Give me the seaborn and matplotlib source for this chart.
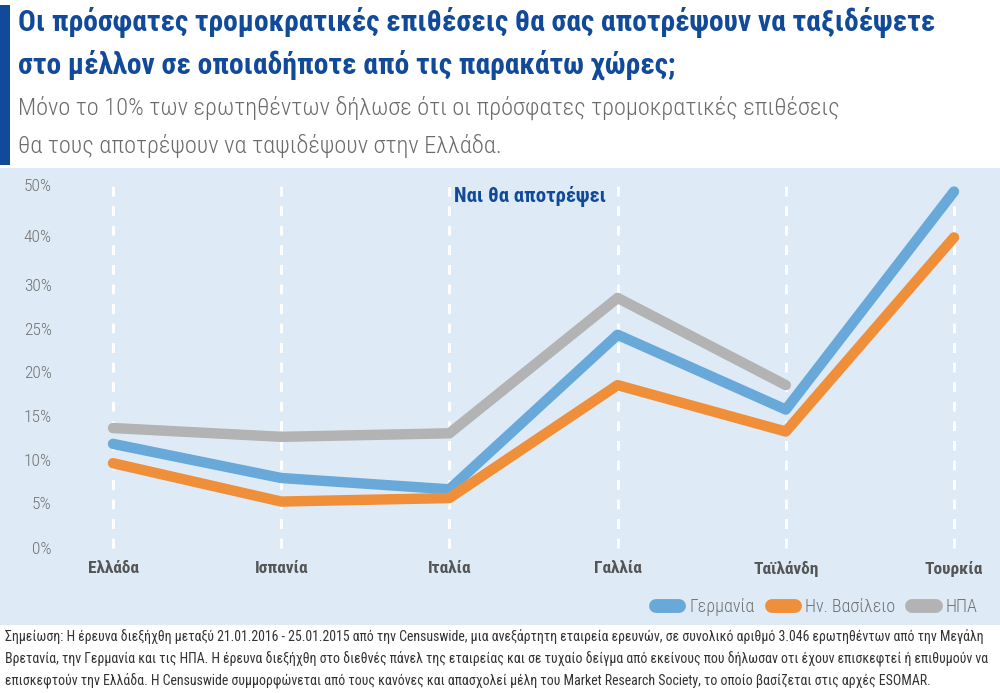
import numpy as np
import pandas as pd
import matplotlib
matplotlib.use("Agg")
import matplotlib.pyplot as plt
import seaborn as sns
from matplotlib import font_manager as fm
from matplotlib.ft2font import FT2Font
from matplotlib.lines import Line2D
from matplotlib.patches import Rectangle
from matplotlib.ticker import NullLocator

# ---------------- data ----------------
countries = ["Ελλάδα", "Ισπανία", "Ιταλία", "Γαλλία", "Ταϊλάνδη", "Τουρκία"]
germany = [11.8, 7.9, 6.6, 24.3, 15.7, 48.8]
uk = [9.6, 5.2, 5.6, 18.5, 13.2, 39.8]
usa = [13.6, 12.6, 13.0, 28.5, 18.5, None]
series_names = ["Γερμανία", "Ην. Βασίλειο", "ΗΠΑ"]
ytick_values = [0, 5, 10, 15, 20, 25, 30, 40, 50]
ytick_labels = ["0%", "5%", "10%", "15%", "20%", "25%", "30%", "40%", "50%"]

title = ("Οι πρόσφατες τρομοκρατικές επιθέσεις θα σας αποτρέψουν να ταξιδέψετε\n"
         "στο μέλλον σε οποιαδήποτε από τις παρακάτω χώρες;")
subtitle = ("Μόνο το 10% των ερωτηθέντων δήλωσε ότι οι πρόσφατες τρομοκρατικές επιθέσεις\n"
            "θα τους αποτρέψουν να ταψιδέψουν στην Ελλάδα.")
panel_title = "Ναι θα αποτρέψει"
note = ("Σημείωση: Η έρευνα διεξήχθη μεταξύ 21.01.2016 - 25.01.2015 από την Censuswide, μια ανεξάρτητη εταιρεία ερευνών, σε συνολικό αριθμό 3.046 ερωτηθέντων από την Μεγάλη\n"
        "Βρετανία, την Γερμανία και τις ΗΠΑ. Η έρευνα διεξήχθη στο διεθνές πάνελ της εταιρείας και σε τυχαίο δείγμα από εκείνους που δήλωσαν οτι έχουν επισκεφτεί ή επιθυμούν να\n"
        "επισκεφτούν την Ελλάδα. Η Censuswide συμμορφώνεται από τους κανόνες και απασχολεί μέλη του Market Research Society, το οποίο βασίζεται στις αρχές ESOMAR.")

df = pd.DataFrame({"country": countries * 3,
                   "value": germany + uk + usa,
                   "series": sum([[s] * len(countries) for s in series_names], [])})
df["pos"] = df["country"].map({c: i for i, c in enumerate(countries)})
df = df.dropna()

# ---------------- fonts ----------------
sns.set_theme(style="white")
plt.rcParams["font.family"] = ["DejaVu Sans"]

_greek_cache = {}


def has_greek(path):
    if path not in _greek_cache:
        try:
            f = FT2Font(path)
            _greek_cache[path] = all(f.get_char_index(ord(c)) != 0 for c in "λάψΓ")
        except Exception:
            _greek_cache[path] = False
    return _greek_cache[path]


def pick(families, weight, fallback_weight="normal"):
    for fam in families:
        cands = [f for f in fm.fontManager.ttflist
                 if f.name == fam and f.style == "normal" and has_greek(f.fname)]
        if cands:
            best = min(cands, key=lambda f: abs((f.weight if isinstance(f.weight, int) else 400) - weight))
            return fm.FontProperties(fname=best.fname)
    return fm.FontProperties(family="DejaVu Sans", weight=fallback_weight, stretch="condensed")


cond_families = ["Roboto Condensed", "Fira Sans Condensed", "Fira Sans Extra Condensed",
                 "Open Sans Condensed", "Sofia Sans Condensed", "Ubuntu Condensed"]
HEAVY = pick(cond_families, 800, "bold")
BOLD = pick(cond_families, 700, "bold")
LIGHT = pick(cond_families, 300)
REG = pick(cond_families, 400)

BLUE = "#68a9d9"
ORANGE = "#f08f3a"
GREY = "#b3b3b3"
DARK = "#124a9a"
PANEL = "#deebf6"
palette = {series_names[0]: BLUE, series_names[1]: ORANGE, series_names[2]: GREY}

W, H = 1000, 693
fig = plt.figure(figsize=(W / 100, H / 100), dpi=100)
fig.patch.set_facecolor("white")
renderer = fig.canvas.get_renderer()


def fx(px):
    return px / W


def fy(py):
    return 1 - py / H


def fit(t, target_px, size):
    t.set_fontsize(size)
    w = t.get_window_extent(renderer=renderer).width
    t.set_fontsize(size * target_px / w)


# panel background
fig.patches.append(Rectangle((0, fy(625)), 1, (625 - 168) / H, transform=fig.transFigure,
                             facecolor=PANEL, edgecolor="none", zorder=0))
# left bar
fig.patches.append(Rectangle((0, fy(165)), 10 / W, 160 / H, transform=fig.transFigure,
                             facecolor=DARK, edgecolor="none", zorder=1))

t1 = fig.text(fx(18), fy(7), title, ha="left", va="top", fontproperties=HEAVY,
              color=DARK, linespacing=1.5)
fit(t1, 920, 24)
t2 = fig.text(fx(18), fy(96), subtitle, ha="left", va="top", fontproperties=LIGHT,
              color="#6b6b6b", linespacing=1.7)
fit(t2, 822, 20)

# ---------------- axes ----------------
left_px, right_px, top_px, bot_px = 60, 990, 175, 555
ax = fig.add_axes([fx(left_px), fy(bot_px), (right_px - left_px) / W, (bot_px - top_px) / H])
ax.set_zorder(3)
ax.set_facecolor("none")

# uneven value axis of the original: spacing of its gridline values
tv = np.array(ytick_values, dtype=float)
knots = np.array([0, 44.7, 88.3, 132.3, 176.0, 219.3, 263.3, 311.6, 362.6])
slope_lo = knots[1] / (tv[1] - tv[0])
slope_hi = (knots[-1] - knots[-2]) / (tv[-1] - tv[-2])


def fwd(v):
    v = np.asarray(v, dtype=float)
    out = np.interp(v, tv, knots)
    out = np.where(v < tv[0], (v - tv[0]) * slope_lo, out)
    out = np.where(v > tv[-1], knots[-1] + (v - tv[-1]) * slope_hi, out)
    return out


def inv(p):
    p = np.asarray(p, dtype=float)
    out = np.interp(p, knots, tv)
    out = np.where(p < knots[0], tv[0] + p / slope_lo, out)
    out = np.where(p > knots[-1], tv[-1] + (p - knots[-1]) / slope_hi, out)
    return out


ax.set_yscale("function", functions=(fwd, inv))

unit = (954 - 113) / 5
ax.set_xlim(-(113 - left_px) / unit, 5 + (right_px - 954) / unit)
ax.set_ylim(float(inv(-(bot_px - 548))), float(inv(knots[-1] + (548 - knots[-1] - top_px))))

ax.vlines(range(len(countries)), 0, 50, colors="white", linestyles=(0, (3.2, 3.2)),
          linewidth=2.2, zorder=1)

sns.lineplot(data=df, x="pos", y="value", hue="series", palette=palette,
             hue_order=series_names, linewidth=7.5, ax=ax, legend=False, zorder=3)
for line in ax.get_lines():
    line.set_solid_capstyle("round")
    line.set_solid_joinstyle("round")

ax.set_xticks(range(len(countries)))
ax.set_xticklabels(countries, color="#555555")
for lab in ax.get_xticklabels():
    lab.set_fontproperties(BOLD)
    lab.set_fontsize(12.5)
ax.set_yticks(ytick_values)
ax.set_yticklabels(ytick_labels, color="#707070")
for lab in ax.get_yticklabels():
    lab.set_fontproperties(LIGHT)
    lab.set_fontsize(12.5)
ax.yaxis.set_minor_locator(NullLocator())
ax.tick_params(axis="x", length=0, pad=4)
ax.tick_params(axis="y", length=0, pad=6)
ax.set_xlabel("")
ax.set_ylabel("")
for s in ax.spines.values():
    s.set_visible(False)
ax.grid(False)

pt = fig.text(fx(530), fy(196), panel_title, ha="center", va="center", fontproperties=HEAVY,
              color=DARK)
fit(pt, 152, 16)

handles = [Line2D([0], [0], color=palette[n], linewidth=10, solid_capstyle="round")
           for n in series_names]
legprop = LIGHT.copy()
legprop.set_size(13)
leg = fig.legend(handles, series_names, loc="center right", bbox_to_anchor=(fx(994), fy(607)),
                 ncol=3, frameon=False, prop=legprop, handlelength=1.3, handletextpad=0.55,
                 columnspacing=0.95, labelcolor="#707070")

t3 = fig.text(fx(5), fy(629), note, ha="left", va="top", fontproperties=REG, color="#333333",
              linespacing=1.55)
fit(t3, 985, 11)

fig.savefig("out.png", dpi=100, facecolor=fig.get_facecolor())
